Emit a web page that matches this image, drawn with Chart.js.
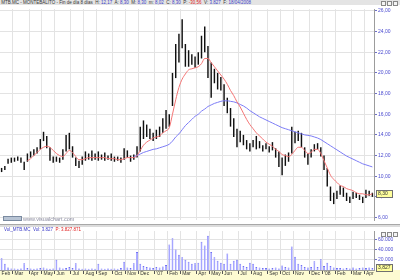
<!DOCTYPE html>
<html>
<head>
<meta charset="utf-8">
<script src="https://cdn.jsdelivr.net/npm/chart.js@4.4.1/dist/chart.umd.min.js"></script>
<style>
  body { margin: 0; width: 400px; height: 280px; overflow: hidden; background: #fff; position: relative;
         font-family: "Liberation Sans", Arial, sans-serif; }
  .titlebar { position: absolute; left: 0; top: 0; width: 400px; height: 5px; background: #e4e4e4;
              font-size: 4.5px; line-height: 5px; color: #333; white-space: nowrap; }
  .titlebar span.v { color: #3d3dc8; }
  .titlebar span.r { color: #e02020; }
  .icons { position: absolute; right: 2px; top: 0; height: 5px; }
  .icons i { display: inline-block; width: 3px; height: 3px; margin-left: 1px; margin-top: 1px;
             border: 0.5px solid #888; background: #f4f4f4; }
  .pane { position: absolute; left: 0; width: 400px; }
  #pricePane { top: 5px; height: 219px; }
  #volPane { top: 227px; height: 53px; }
  .sep { position: absolute; left: 0; top: 224px; width: 400px; height: 3px; background: #dcdcdc;
         border-top: 1px solid #a8a8a8; box-sizing: border-box; }
  .sep .icons { top: -2px; }
  .watermark { position: absolute; left: 3px; top: 216px; height: 6px; font-size: 5.5px; line-height: 6px; color: #8c8ca0; }
  .watermark b { display: inline-block; width: 19px; height: 5px; border: 1px solid #7a8aa0; background: #b8c4d4;
                 vertical-align: top; margin-right: 1px; box-sizing: border-box; }
  .volhead { position: absolute; left: 4px; top: 227px; font-size: 4.5px; line-height: 5px; color: #3d3dc8; white-space: nowrap; }
  .volhead span.r { color: #e02020; }
</style>
</head>
<body>
<div class="titlebar">&nbsp;MTB.MC - MONTEBALITO - Fin de día 8 días&nbsp; H: <span class="v">12,17</span>&nbsp; A: <span class="v">8,30</span>&nbsp; M: <span class="v">8,30</span>&nbsp; m: <span class="v">8,02</span>&nbsp; C: <span class="v">8,30</span>&nbsp; P: <span class="r">-30,56</span>&nbsp; V: <span class="v">3.827</span>&nbsp; F: <span class="v">18/04/2008</span>
  <div class="icons"><i></i><i></i><i></i></div>
</div>
<div class="pane" id="pricePane"><canvas id="priceChart"></canvas></div>
<div class="watermark"><b></b>www.visualchart.com</div>
<div class="sep"><div class="icons"><i></i><i></i><i></i></div></div>
<div class="pane" id="volPane"><canvas id="volChart"></canvas></div>
<div class="volhead">Vol_MTB.MC&nbsp; Vol: 3.827&nbsp; <span class="r">P: 3.827.871</span></div>
<script>
// weekly bars, first week ends Fri 3 Feb 2006, last ends Fri 18 Apr 2008
const firstWeek = Date.UTC(2006, 1, 3);
const weekCount = 116;
const monthNames = ['Jan', 'Feb', 'Mar', 'Apr', 'May', 'Jun', 'Jul', 'Aug', 'Sep', 'Oct', 'Nov', 'Dec'];

const priceLow = [
  10.4, 10.6, 11.2, 11.3, 11.4, 11.5, 11.3, 10.6, 11.4, 11.8,
  12.0, 12.2, 12.6, 13.4, 12.7, 11.5, 11.3, 11.4, 11.3, 11.6,
  12.4, 12.6, 11.8, 11.0, 10.8, 11.1, 11.5, 11.6, 11.5, 11.6,
  11.5, 11.6, 11.5, 11.6, 11.5, 11.4, 11.5, 11.3, 11.6, 11.8,
  11.4, 11.6, 11.8, 12.4, 13.6, 13.8, 13.6, 13.4, 13.6, 13.8,
  14.2, 14.6, 14.8, 16.8, 19.5, 21.0, 22.4, 20.6, 20.6, 20.8,
  20.5, 20.8, 21.4, 22.0, 19.5, 17.6, 19.0, 18.4, 18.3, 16.8,
  16.1, 14.8, 13.8, 12.8, 13.3, 13.0, 12.6, 12.4, 12.8, 12.6,
  12.7, 12.4, 12.6, 12.3, 12.5, 11.8, 10.9, 10.1, 11.0, 11.4,
  12.2, 13.2, 13.4, 12.8, 11.8, 11.1, 11.8, 12.4, 12.6, 11.9,
  10.6, 9.0, 7.6, 7.3, 7.8, 8.2, 8.0, 7.6, 7.4, 7.8,
  7.9, 7.7, 7.4, 7.9, 8.1, 8.0
];
const priceHigh = [
  10.8, 11.0, 11.7, 11.8, 11.8, 11.9, 11.8, 11.4, 12.2, 12.4,
  12.6, 12.8, 13.6, 14.3, 13.9, 12.8, 11.9, 11.9, 11.8, 12.6,
  14.0, 14.2, 12.9, 11.8, 11.5, 11.9, 12.4, 12.2, 12.5, 12.2,
  12.4, 12.1, 12.3, 12.0, 12.2, 11.9, 11.9, 11.8, 12.7, 12.5,
  12.0, 12.1, 12.9, 14.8, 15.4, 15.0, 14.6, 14.2, 14.5, 14.8,
  15.6, 16.4, 16.0, 20.0, 22.8, 23.8, 25.2, 22.8, 22.2, 21.8,
  21.6, 22.0, 23.6, 24.5, 22.6, 21.0, 20.4, 20.0, 19.6, 18.9,
  17.6, 16.6, 15.6, 14.6, 14.4, 14.0, 13.5, 13.2, 13.5, 13.9,
  13.4, 13.0, 13.2, 12.9, 13.3, 12.7, 12.4, 11.8, 12.1, 12.3,
  14.8, 14.3, 14.4, 14.2, 12.8, 12.2, 12.6, 13.1, 13.2, 12.8,
  12.0, 10.8, 9.0, 8.4, 8.6, 9.1, 8.9, 8.4, 8.0, 8.5,
  8.4, 8.2, 8.0, 8.7, 8.6, 8.4
];
// short moving average (red)
const maShort = [
  null, null, null, null, null, null, null, null, 11.5, 11.7,
  12.0, 12.3, 12.6, 12.8, 12.9, 12.8, 12.5, 12.2, 12.0, 11.9,
  12.2, 12.5, 12.3, 11.9, 11.6, 11.6, 11.7, 11.8, 11.8, 11.8,
  11.8, 11.8, 11.8, 11.7, 11.7, 11.7, 11.6, 11.6, 11.7, 11.8,
  11.8, 11.8, 12.0, 12.5, 13.0, 13.3, 13.5, 13.7, 13.8, 13.9,
  14.2, 14.4, 14.7, 16.0, 17.4, 18.6, 19.4, 19.9, 20.3, 20.4,
  20.5, 20.6, 20.9, 21.4, 21.4, 21.0, 20.6, 20.2, 19.8, 19.4,
  18.9, 18.3, 17.8, 17.2, 16.7, 16.1, 15.5, 15.0, 14.6, 14.2,
  13.9, 13.6, 13.3, 13.1, 12.9, 12.6, 12.4, 12.1, 12.0, 11.9,
  12.1, 12.5, 12.8, 12.8, 12.5, 12.2, 12.3, 12.6, 12.6, 12.2,
  11.5, 10.8, 10.1, 9.7, 9.4, 9.1, 9.0, 8.8, 8.7, 8.6,
  8.4, 8.3, 8.3, 8.2, 8.2, 8.3
];
// long moving average (blue)
const maLong = [
  null, null, null, null, null, null, null, null, null, null,
  null, null, null, null, null, null, null, null, null, null,
  null, null, null, null, null, null, null, null, null, null,
  null, null, null, null, null, null, null, null, null, null,
  null, 11.9, 12.0, 12.15, 12.3, 12.4, 12.5, 12.6, 12.65, 12.75,
  12.85, 12.95, 13.1, 13.4, 13.8, 14.1, 14.5, 14.9, 15.2, 15.5,
  15.8, 16.0, 16.3, 16.5, 16.75, 16.9, 17.05, 17.15, 17.25, 17.3,
  17.3, 17.25, 17.2, 17.1, 16.95, 16.8, 16.6, 16.35, 16.15, 15.95,
  15.75, 15.6, 15.45, 15.3, 15.15, 15.0, 14.85, 14.7, 14.6, 14.5,
  14.4, 14.3, 14.2, 14.1, 14.0, 13.95, 13.9, 13.8, 13.7, 13.55,
  13.35, 13.15, 12.95, 12.75, 12.55, 12.35, 12.15, 11.95, 11.8, 11.65,
  11.5, 11.35, 11.2, 11.1, 11.0, 10.9
];
const volume = [
  23000, 12000, 5000, 3000, 3000, 2500, 3000, 13000, 4000, 3000,
  2500, 3000, 4000, 5000, 3000, 2500, 3000, 20000, 5000, 3000,
  4000, 6000, 4000, 13000, 3000, 2500, 3000, 2500, 3000, 2500,
  12000, 3000, 2500, 3000, 2500, 3000, 2500, 4000, 16000, 5000,
  4000, 13000, 35000, 12000, 8000, 6000, 5000, 4000, 6000, 5000,
  7000, 10000, 50000, 62000, 40000, 30000, 25000, 20000, 16000, 12000,
  13000, 14000, 55000, 48000, 67000, 35000, 25000, 18000, 14000, 12000,
  32000, 12000, 18000, 20000, 12000, 8000, 6000, 14000, 12000, 6000,
  5000, 4000, 4000, 3000, 4000, 5000, 3000, 9000, 6000, 5000,
  46000, 26000, 12000, 10000, 6000, 5000, 6000, 17000, 6000, 21000,
  8000, 14000, 8000, 5000, 4000, 4000, 3000, 4000, 3000, 5000,
  3000, 4000, 5000, 4000, 5000, 4000
];
const priceTicks = [6, 8, 10, 12, 14, 16, 18, 20, 22, 24, 26];
const volumeTicks = [20000, 40000, 60000];
const lastClose = 8.30;
const lastVolume = 3827;

const weeks = [];
const monthLabel = [];
for (let i = 0; i < weekCount; i++) {
  const d = new Date(firstWeek + i * 7 * 86400000);
  weeks.push(d.toISOString().slice(0, 10));
  const prev = i > 0 ? new Date(firstWeek + (i - 1) * 7 * 86400000) : null;
  if (!prev || prev.getUTCMonth() !== d.getUTCMonth()) {
    const m = d.getUTCMonth();
    monthLabel.push(m === 0 ? "'" + String(d.getUTCFullYear()).slice(2) : monthNames[m]);
  } else {
    monthLabel.push('');
  }
}

const gridColor = '#e3e3e3';
const axisBlue = '#4a4ad0';
const tinyFont = { family: 'Liberation Sans', size: 5 };

const lastValueBox = {
  id: 'lastValueBox',
  afterDraw(chart, args, opts) {
    const { ctx, chartArea } = chart;
    const y = chart.scales.y.getPixelForValue(opts.value);
    ctx.save();
    ctx.fillStyle = '#ffff9c';
    ctx.strokeStyle = '#707070';
    ctx.lineWidth = 1;
    ctx.fillRect(chartArea.right + 2.5, Math.round(y) - 3.5, 16, 7);
    ctx.strokeRect(chartArea.right + 2.5, Math.round(y) - 3.5, 16, 7);
    ctx.fillStyle = '#303030';
    ctx.font = '5px "Liberation Sans"';
    ctx.textBaseline = 'middle';
    ctx.fillText(opts.text, chartArea.right + 4, Math.round(y));
    ctx.restore();
  }
};

const axisStrip = {
  id: 'axisStrip',
  beforeDraw(chart) {
    const { ctx, chartArea } = chart;
    ctx.save();
    ctx.fillStyle = '#fdfbd2';
    ctx.fillRect(0, chartArea.bottom, chart.width, chart.height - chartArea.bottom);
    ctx.restore();
  }
};

const monthGrid = ctx => monthLabel[ctx.index] ? gridColor : 'rgba(0,0,0,0)';

new Chart(document.getElementById('priceChart'), {
  type: 'bar',
  data: {
    labels: weeks,
    datasets: [
      { type: 'line', data: maShort, borderColor: '#f47474', borderWidth: 1, pointRadius: 0,
        cubicInterpolationMode: 'monotone', order: 1 },
      { type: 'line', data: maLong, borderColor: '#7c7cf6', borderWidth: 1, pointRadius: 0,
        cubicInterpolationMode: 'monotone', order: 2 },
      { type: 'bar', data: priceLow.map((lo, i) => [lo, priceHigh[i]]), backgroundColor: '#111',
        barPercentage: 0.45, categoryPercentage: 1, order: 3 }
    ]
  },
  options: {
    responsive: true,
    maintainAspectRatio: false,
    animation: false,
    layout: { padding: 0 },
    plugins: {
      legend: { display: false },
      tooltip: { enabled: false },
      lastValueBox: { value: lastClose, text: lastClose.toFixed(2).replace('.', ',') }
    },
    scales: {
      x: {
        grid: { color: monthGrid, drawTicks: false, offset: true },
        ticks: { display: false },
        border: { display: false },
        afterFit(s) { s.height = 0; }
      },
      y: {
        position: 'right',
        min: 5.76,
        max: 26.19,
        afterBuildTicks(s) { s.ticks = priceTicks.map(v => ({ value: v })); },
        afterFit(s) { s.width = 26; },
        grid: { color: gridColor, tickLength: 3, tickColor: '#7070c8' },
        border: { color: '#9c9c9c' },
        ticks: { font: tinyFont, color: axisBlue, padding: 1,
                 callback: v => v.toFixed(2).replace('.', ',') }
      }
    }
  },
  plugins: [lastValueBox]
});

new Chart(document.getElementById('volChart'), {
  type: 'bar',
  data: {
    labels: weeks,
    datasets: [
      { data: volume, backgroundColor: '#a6a6ff', borderColor: '#7070f4', borderWidth: { top: 1, left: 0, right: 0, bottom: 0 },
        barPercentage: 0.6, categoryPercentage: 1 }
    ]
  },
  options: {
    responsive: true,
    maintainAspectRatio: false,
    animation: false,
    layout: { padding: 0 },
    plugins: {
      legend: { display: false },
      tooltip: { enabled: false },
      lastValueBox: { value: lastVolume, text: lastVolume.toLocaleString('de-DE').replace('.', ',') }
    },
    scales: {
      x: {
        grid: { color: monthGrid, tickColor: ctx => monthLabel[ctx.index] ? '#555' : 'rgba(0,0,0,0)',
                tickLength: 4, offset: true },
        border: { color: '#9c9c9c' },
        ticks: { autoSkip: false, maxRotation: 0, minRotation: 0, align: 'start', padding: -3,
                 font: tinyFont, color: '#333', callback: (v, i) => monthLabel[i] },
        afterFit(s) { s.height = 10; }
      },
      y: {
        position: 'right',
        min: 0,
        max: 76100,
        afterBuildTicks(s) { s.ticks = volumeTicks.map(v => ({ value: v })); },
        afterFit(s) { s.width = 26; },
        grid: { color: gridColor, tickLength: 3, tickColor: '#7070c8' },
        border: { color: '#9c9c9c' },
        ticks: { font: tinyFont, color: axisBlue, padding: 1,
                 callback: v => v.toLocaleString('de-DE') }
      }
    }
  },
  plugins: [lastValueBox, axisStrip]
});
</script>
</body>
</html>
